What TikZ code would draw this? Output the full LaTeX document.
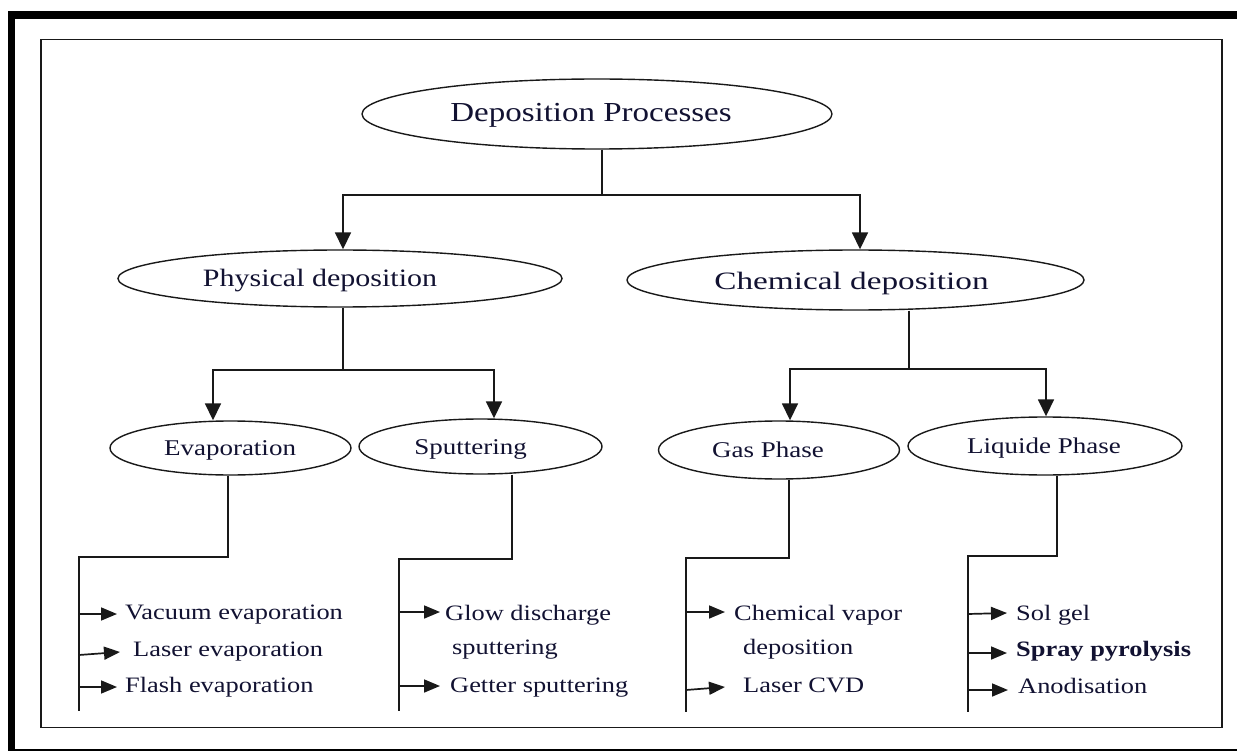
\documentclass[tikz,border=0pt]{standalone}
\usepackage{fontspec}
\setmainfont{Liberation Serif}
\usepackage{graphicx}
\usetikzlibrary{arrows.meta,shapes.geometric}
\definecolor{txtc}{RGB}{18,18,50}
\definecolor{lnc}{RGB}{25,25,25}
\newcommand\wtext[2][1.2]{\scalebox{#1}[1]{#2}}
\tikzset{
  ell/.style={draw=lnc, line width=1.4pt, ellipse, inner sep=0pt},
  lbl/.style={text=txtc, inner sep=0pt, anchor=base},
  item/.style={text=txtc, inner sep=0pt, anchor=base west, font=\fontsize{22}{26}\selectfont},
  conn/.style={draw=lnc, line width=1.7pt},
  bigarrow/.style={conn, -{Triangle[width=16pt,length=17pt]}},
  smallarrow/.style={conn, -{Triangle[width=13pt,length=16pt]}},
}
\begin{document}
\begin{tikzpicture}[x=1pt,y=-1pt]
\useasboundingbox (0,0) rectangle (1237,751);
\clip (0,0) rectangle (1237,751);
\fill[white] (0,0) rectangle (1237,751);
% frames
\draw[line width=7.5pt] (11.5,15) rectangle (1265,752.5);
\draw[draw=lnc, line width=1.4pt] (41,39.5) rectangle (1222,727.5);

% ellipses
\node[ell, minimum width=470pt, minimum height=70pt] (root) at (597,114) {};
\node[lbl, font=\fontsize{27.5}{30}\selectfont] (rootT) at (591,122) {\wtext{Deposition Processes}};

\node[ell, minimum width=444pt, minimum height=57pt] (phys) at (340,278.5) {};
\node[lbl, font=\fontsize{25}{28}\selectfont] (physT) at (320,287) {\wtext{Physical deposition}};

\node[ell, minimum width=457pt, minimum height=60pt] (chem) at (855.5,280) {};
\node[lbl, font=\fontsize{25}{28}\selectfont] (chemT) at (851.5,290) {\wtext[1.33]{Chemical deposition}};

\node[ell, minimum width=241pt, minimum height=54pt] (evap) at (230.5,448) {};
\node[lbl, font=\fontsize{22.5}{26}\selectfont] (evapT) at (230,455) {\wtext{Evaporation}};

\node[ell, minimum width=243pt, minimum height=55pt] (sput) at (480.5,446.5) {};
\node[lbl, font=\fontsize{22.5}{26}\selectfont] (sputT) at (470.5,454) {\wtext{Sputtering}};

\node[ell, minimum width=241pt, minimum height=58pt] (gas) at (779,450) {};
\node[lbl, font=\fontsize{22.5}{26}\selectfont] (gasT) at (768,457) {\wtext{Gas Phase}};

\node[ell, minimum width=274pt, minimum height=58pt] (liq) at (1045,446) {};
\node[lbl, font=\fontsize{22.5}{26}\selectfont] (liqT) at (1044,453) {\wtext{Liquide Phase}};

% top-level connectors
\draw[conn] ([xshift=5pt]root.south) -- (602,195) coordinate (j1);
\draw[bigarrow] (j1) -| ([xshift=3pt]phys.north);
\draw[bigarrow] (j1) -| ([xshift=4.5pt]chem.north);

\draw[conn] ([xshift=3pt]phys.south) -- ++(0,62) coordinate (j2);
\draw[bigarrow] (j2) -| ([xshift=-17.5pt]evap.north);
\draw[bigarrow] (j2) -| ([xshift=13.5pt]sput.north);

\draw[conn] ([xshift=53.5pt]chem.south) -- ++(0,58) coordinate (j3);
\draw[bigarrow] (j3) -| ([xshift=11pt]gas.north);
\draw[bigarrow] (j3) -| ([xshift=1pt]liq.north);

% bus lines
\coordinate (eb) at (79,711);
\coordinate (sb) at (399,711);
\coordinate (gb) at (686,712);
\coordinate (lb) at (968,712);
\draw[conn] ([xshift=-2.5pt]evap.south) -- ++(0,81) -| (eb);
\draw[conn] ([xshift=31.5pt]sput.south) -- ++(0,84) -| (sb);
\draw[conn] ([xshift=10pt]gas.south) -- ++(0,78) -| (gb);
\draw[conn] ([xshift=12pt]liq.south) -- ++(0,80) -| (lb);

% items
\node[item] (v1) at (125,619) {\wtext{Vacuum evaporation}};
\node[item] (v2) at (133,656) {\wtext{Laser evaporation}};
\node[item] (v3) at (125,692) {\wtext{Flash evaporation}};
\node[item] (g1) at (445,620) {\wtext{Glow discharge}};
\node[item] (g1b) at (452,654) {\wtext{sputtering}};
\node[item] (g2) at (450,692) {\wtext{Getter sputtering}};
\node[item] (c1) at (734,620) {\wtext{Chemical vapor}};
\node[item] (c1b) at (743,654) {\wtext{deposition}};
\node[item] (c2) at (743,692) {\wtext{Laser CVD}};
\node[item] (l1) at (1016,620) {\wtext{Sol gel}};
\node[item, font=\fontsize{22}{26}\selectfont\bfseries] (l2) at (1016,656) {\wtext{Spray pyrolysis}};
\node[item] (l3) at (1018,693) {\wtext{Anodisation}};

\draw[smallarrow] ([yshift=5pt]eb |- v1.base west) -- ([shift={(-8pt,5pt)}]v1.base west);
\draw[smallarrow] ([yshift=1pt]eb |- v2.base west) -- ([shift={(-13pt,4pt)}]v2.base west);
\draw[smallarrow] ([yshift=5pt]eb |- v3.base west) -- ([shift={(-8pt,5pt)}]v3.base west);
\draw[smallarrow] ([yshift=8pt]sb |- g1.base west) -- ([shift={(-5pt,8pt)}]g1.base west);
\draw[smallarrow] ([yshift=6pt]sb |- g2.base west) -- ([shift={(-10pt,6pt)}]g2.base west);
\draw[smallarrow] ([yshift=8pt]gb |- c1.base west) -- ([shift={(-9pt,8pt)}]c1.base west);
\draw[smallarrow] ([yshift=2pt]gb |- c2.base west) -- ([shift={(-18pt,5pt)}]c2.base west);
\draw[smallarrow] ([yshift=6pt]lb |- l1.base west) -- ([shift={(-9pt,7pt)}]l1.base west);
\draw[smallarrow] ([yshift=3pt]lb |- l2.base west) -- ([shift={(-9pt,3pt)}]l2.base west);
\draw[smallarrow] ([yshift=3pt]lb |- l3.base west) -- ([shift={(-10pt,3pt)}]l3.base west);
\end{tikzpicture}
\end{document}
